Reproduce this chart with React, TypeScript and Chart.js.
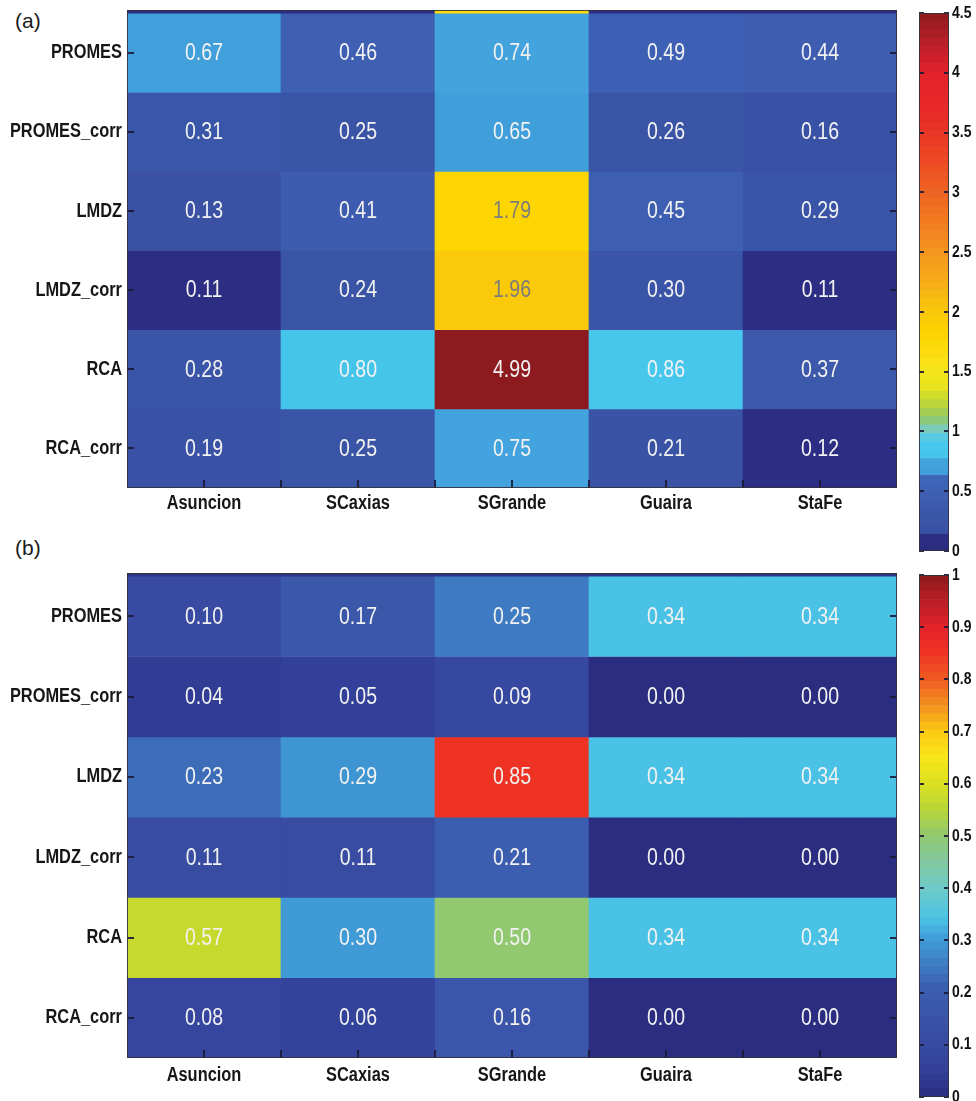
import React, { useEffect, useRef } from "react";
import { Chart, registerables } from "chart.js";

Chart.register(...registerables);

// ---------- data ----------
const stations = ["Asuncion", "SCaxias", "SGrande", "Guaira", "StaFe"];
const models = ["PROMES", "PROMES_corr", "LMDZ", "LMDZ_corr", "RCA", "RCA_corr"];

// panel (a)
const a_PROMES = [0.67, 0.46, 0.74, 0.49, 0.44];
const a_PROMES_corr = [0.31, 0.25, 0.65, 0.26, 0.16];
const a_LMDZ = [0.13, 0.41, 1.79, 0.45, 0.29];
const a_LMDZ_corr = [0.11, 0.24, 1.96, 0.3, 0.11];
const a_RCA = [0.28, 0.8, 4.99, 0.86, 0.37];
const a_RCA_corr = [0.19, 0.25, 0.75, 0.21, 0.12];
// partially visible row at the top edge of panel (a)
const a_edgeRow = [0.05, 0.05, 1.7, 0.05, 0.05];

// panel (b)
const b_PROMES = [0.1, 0.17, 0.25, 0.34, 0.34];
const b_PROMES_corr = [0.04, 0.05, 0.09, 0.0, 0.0];
const b_LMDZ = [0.23, 0.29, 0.85, 0.34, 0.34];
const b_LMDZ_corr = [0.11, 0.11, 0.21, 0.0, 0.0];
const b_RCA = [0.57, 0.3, 0.5, 0.34, 0.34];
const b_RCA_corr = [0.08, 0.06, 0.16, 0.0, 0.0];
const b_edgeRow = [0.02, 0.02, 0.02, 0.02, 0.02];

const colorbarA_max = 4.5;
const colorbarA_step = 0.5;
const colorbarB_max = 1;
const colorbarB_step = 0.1;

// ---------- colormaps (styles) ----------
const STOPS_A: [number, string][] = [
  [0.0, "#2a2c80"],
  [0.125, "#2c2e84"],
  [0.126, "#3a51a4"],
  [0.3, "#3a55a7"],
  [0.45, "#3e5eb2"],
  [0.6, "#3e66b8"],
  [0.62, "#409cd9"],
  [0.76, "#42a4de"],
  [0.78, "#45c4eb"],
  [0.92, "#4bc9ee"],
  [1.0, "#75cccc"],
  [1.1, "#8ec86e"],
  [1.22, "#b8d43a"],
  [1.38, "#eae41c"],
  [1.55, "#fae41a"],
  [1.8, "#fdd400"],
  [2.0, "#f9c60b"],
  [2.3, "#f6a81a"],
  [2.65, "#f2861f"],
  [3.0, "#ee6322"],
  [3.3, "#ec4624"],
  [3.65, "#e82a27"],
  [4.0, "#e2222a"],
  [4.2, "#c2202a"],
  [4.5, "#8c1a1e"],
];

const STOPS_B: [number, string][] = [
  [0.0, "#2b2d80"],
  [0.05, "#32409a"],
  [0.1, "#384aa1"],
  [0.16, "#3a55a9"],
  [0.21, "#3b5eb0"],
  [0.25, "#3e7bc2"],
  [0.3, "#3f9ad6"],
  [0.34, "#4ac2e5"],
  [0.4, "#6ecac8"],
  [0.45, "#82c8a0"],
  [0.5, "#91c870"],
  [0.55, "#b8d638"],
  [0.6, "#dce020"],
  [0.65, "#f8e61a"],
  [0.7, "#fcc812"],
  [0.75, "#f39020"],
  [0.8, "#ef5a22"],
  [0.85, "#ee3324"],
  [0.9, "#e3222a"],
  [0.95, "#b81f25"],
  [1.0, "#8b1a1e"],
];

const FONT = '"Liberation Sans", Arial, sans-serif';

function hexToRgb(h: string): number[] {
  const n = parseInt(h.slice(1), 16);
  return [(n >> 16) & 255, (n >> 8) & 255, n & 255];
}

function cmap(stops: [number, string][], v: number): string {
  if (v <= stops[0][0]) return stops[0][1];
  if (v >= stops[stops.length - 1][0]) return stops[stops.length - 1][1];
  for (let i = 0; i < stops.length - 1; i++) {
    const [v0, c0] = stops[i];
    const [v1, c1] = stops[i + 1];
    if (v >= v0 && v <= v1) {
      const t = (v - v0) / (v1 - v0);
      const a = hexToRgb(c0);
      const b = hexToRgb(c1);
      const c = a.map((x, k) => Math.round(x + (b[k] - x) * t));
      return `rgb(${c[0]},${c[1]},${c[2]})`;
    }
  }
  return stops[0][1];
}

function rgbOf(col: string): number[] {
  if (col.startsWith("#")) return hexToRgb(col);
  const m = col.match(/\d+/g) || ["255", "255", "255"];
  return m.map(Number);
}

function textColorFor(col: string): string {
  const [r, g, b] = rgbOf(col);
  if (r > 230 && g > 180 && b < 70) return "#7c7c7c";
  return "#f2f2f2";
}

function drawNarrow(
  ctx: CanvasRenderingContext2D,
  text: string,
  x: number,
  y: number,
  font: string,
  align: CanvasTextAlign,
  color: string,
  sx = 0.82
) {
  ctx.save();
  ctx.translate(x, y);
  ctx.scale(sx, 1);
  ctx.font = font;
  ctx.textAlign = align;
  ctx.textBaseline = "middle";
  ctx.fillStyle = color;
  ctx.fillText(text, 0, 0);
  ctx.restore();
}

const TICK_COLOR = "rgba(25,25,55,0.9)";
const LABEL_COLOR = "#161616";

const heatPlugin = {
  id: "heatDecor",
  afterDatasetsDraw(chart: any) {
    const ctx = chart.ctx;
    const { left, right, top, bottom } = chart.chartArea;
    const opts = chart.options.plugins.heatDecor || {};
    ctx.save();
    // cell values
    chart.data.datasets.forEach((ds: any, di: number) => {
      if (ds.isEdge) return;
      const meta = chart.getDatasetMeta(di);
      meta.data.forEach((bar: any, j: number) => {
        const v = ds.values[j];
        const p = bar.getProps(["x", "y", "base"], true);
        const cy = (p.y + p.base) / 2;
        drawNarrow(ctx, v.toFixed(2), p.x, cy + 1, `23px ${FONT}`, "center", textColorFor(ds.backgroundColor[j]), 0.85);
      });
    });
    // inner tick marks
    ctx.strokeStyle = TICK_COLOR;
    ctx.lineWidth = 2;
    const ys = chart.scales.y;
    models.forEach((_, i) => {
      const y = Math.round(ys.getPixelForValue(i));
      ctx.beginPath();
      ctx.moveTo(left, y);
      ctx.lineTo(left + 7, y);
      ctx.moveTo(right - 7, y);
      ctx.lineTo(right, y);
      ctx.stroke();
    });
    const xs = chart.scales.x;
    for (let k = 0; k <= (stations.length - 1) * 2; k++) {
      const x = Math.round(xs.getPixelForValue(k / 2));
      ctx.beginPath();
      ctx.moveTo(x, bottom);
      ctx.lineTo(x, bottom - 8);
      ctx.stroke();
    }
    // axes box
    ctx.strokeStyle = "rgba(50,50,60,0.9)";
    ctx.lineWidth = 1;
    ctx.strokeRect(left + 0.5, top + 0.5, right - left - 1, bottom - top - 1);
    // axis labels (placed from the scales' positions)
    models.forEach((m, i) => {
      const y = ys.getPixelForValue(i);
      drawNarrow(ctx, m, left - 5, y, `bold 20px ${FONT}`, "right", LABEL_COLOR);
    });
    stations.forEach((s, i) => {
      const x = xs.getPixelForValue(i);
      drawNarrow(ctx, s, x, bottom + (opts.labelOffset || 15), `bold 20px ${FONT}`, "center", LABEL_COLOR);
    });
    ctx.restore();
  },
};

function Heatmap(props: {
  rows: number[][];
  edgeRow: number[];
  stops: [number, string][];
  top: number;
  height: number;
  axisH: number;
  labelOffset: number;
}) {
  const ref = useRef<HTMLCanvasElement>(null);
  useEffect(() => {
    const all = [props.edgeRow, ...props.rows];
    const datasets = all.map((vals, k) => {
      const r = k - 1;
      return {
        data: vals.map(() => [r - 0.5, r + 0.5]),
        backgroundColor: vals.map((v) => cmap(props.stops, v)),
        borderWidth: 0,
        grouped: false,
        barPercentage: 1,
        categoryPercentage: 1,
        values: vals,
        isEdge: k === 0,
      } as any;
    });
    const chart = new Chart(ref.current as HTMLCanvasElement, {
      type: "bar",
      data: { labels: stations, datasets },
      plugins: [heatPlugin],
      options: {
        animation: false,
        responsive: false,
        maintainAspectRatio: false,
        layout: { padding: { top: 10, left: 0, right: 3, bottom: 0 } },
        plugins: {
          legend: { display: false },
          tooltip: { enabled: false },
          heatDecor: { labelOffset: props.labelOffset },
        },
        scales: {
          x: {
            type: "category",
            offset: true,
            grid: { display: false },
            border: { display: false },
            ticks: { display: false },
            afterFit: (s: any) => {
              s.height = props.axisH;
              s.paddingLeft = 0;
              s.paddingRight = 0;
            },
          },
          y: {
            type: "linear",
            reverse: true,
            min: -0.54,
            max: 5.5,
            grid: { display: false },
            border: { display: false },
            afterBuildTicks: (s: any) => {
              s.ticks = models.map((_, i) => ({ value: i }));
            },
            ticks: { display: false },
            afterFit: (s: any) => {
              s.width = 127;
              s.paddingTop = 0;
              s.paddingBottom = 0;
            },
          },
        },
      } as any,
    });
    return () => chart.destroy();
  }, []);
  return (
    <canvas
      ref={ref}
      width={900}
      height={props.height}
      style={{ position: "absolute", left: 0, top: props.top, width: 900, height: props.height }}
    />
  );
}

const colorbarPlugin = {
  id: "cbDecor",
  afterDatasetsDraw(chart: any) {
    const ctx = chart.ctx;
    const { left, right, top, bottom } = chart.chartArea;
    const ys = chart.scales.y;
    ctx.save();
    ctx.strokeStyle = TICK_COLOR;
    ctx.lineWidth = 2;
    ys.ticks.forEach((t: any) => {
      const y = Math.round(ys.getPixelForValue(t.value));
      ctx.beginPath();
      ctx.moveTo(left, y);
      ctx.lineTo(left + 5, y);
      ctx.moveTo(right - 5, y);
      ctx.lineTo(right, y);
      ctx.stroke();
    });
    ctx.strokeStyle = "rgba(50,50,60,0.9)";
    ctx.lineWidth = 1;
    ctx.strokeRect(left + 0.5, top + 0.5, right - left - 1, bottom - top - 1);
    ys.ticks.forEach((t: any) => {
      const y = ys.getPixelForValue(t.value);
      const label = String(+Number(t.value).toFixed(2));
      drawNarrow(ctx, label, right + 3, y, `bold 17px ${FONT}`, "left", "#111111");
    });
    ctx.restore();
  },
};

function ColorBar(props: {
  stops: [number, string][];
  max: number;
  step: number;
  top: number;
  height: number;
  padTop: number;
  padBottom: number;
}) {
  const ref = useRef<HTMLCanvasElement>(null);
  useEffect(() => {
    const N = 64;
    const seg = props.max / N;
    const datasets = Array.from({ length: N }, (_, i) => ({
      data: [seg],
      backgroundColor: cmap(props.stops, (i + 0.5) * seg),
      borderWidth: 0,
      barPercentage: 1,
      categoryPercentage: 1,
    }));
    const chart = new Chart(ref.current as HTMLCanvasElement, {
      type: "bar",
      data: { labels: [""], datasets },
      plugins: [colorbarPlugin],
      options: {
        animation: false,
        responsive: false,
        maintainAspectRatio: false,
        layout: { padding: { top: props.padTop, bottom: props.padBottom, left: 14, right: 0 } },
        plugins: { legend: { display: false }, tooltip: { enabled: false } },
        scales: {
          x: {
            display: false,
            stacked: true,
            offset: true,
            afterFit: (s: any) => {
              s.paddingLeft = 0;
              s.paddingRight = 0;
            },
          },
          y: {
            position: "right",
            stacked: true,
            min: 0,
            max: props.max,
            grid: { display: false },
            border: { display: false },
            ticks: { stepSize: props.step, display: false },
            afterFit: (s: any) => {
              s.width = 27;
              s.paddingTop = 0;
              s.paddingBottom = 0;
            },
          },
        },
      } as any,
    });
    return () => chart.destroy();
  }, []);
  return (
    <canvas
      ref={ref}
      width={71}
      height={props.height}
      style={{ position: "absolute", left: 905, top: props.top, width: 71, height: props.height }}
    />
  );
}

const panelLabelStyle: React.CSSProperties = {
  position: "absolute",
  left: 15,
  fontFamily: '"Liberation Sans", Arial, sans-serif',
  fontSize: 21,
  lineHeight: "21px",
  color: "#1a1a1a",
};

export default function App() {
  const rowsA = [a_PROMES, a_PROMES_corr, a_LMDZ, a_LMDZ_corr, a_RCA, a_RCA_corr];
  const rowsB = [b_PROMES, b_PROMES_corr, b_LMDZ, b_LMDZ_corr, b_RCA, b_RCA_corr];
  return (
    <div
      style={{
        position: "absolute",
        left: 0,
        top: 0,
        width: 976,
        height: 1101,
        background: "#ffffff",
        overflow: "hidden",
      }}
    >
      <div style={{ ...panelLabelStyle, top: 10 }}>(a)</div>
      <div style={{ ...panelLabelStyle, top: 537 }}>(b)</div>
      <Heatmap rows={rowsA} edgeRow={a_edgeRow} stops={STOPS_A} top={0} height={530} axisH={42} labelOffset={15} />
      <Heatmap rows={rowsB} edgeRow={b_edgeRow} stops={STOPS_B} top={563} height={530} axisH={35} labelOffset={17} />
      <ColorBar stops={STOPS_A} max={colorbarA_max} step={colorbarA_step} top={0} height={565} padTop={13} padBottom={14} />
      <ColorBar stops={STOPS_B} max={colorbarB_max} step={colorbarB_step} top={560} height={541} padTop={15} padBottom={4} />
    </div>
  );
}
